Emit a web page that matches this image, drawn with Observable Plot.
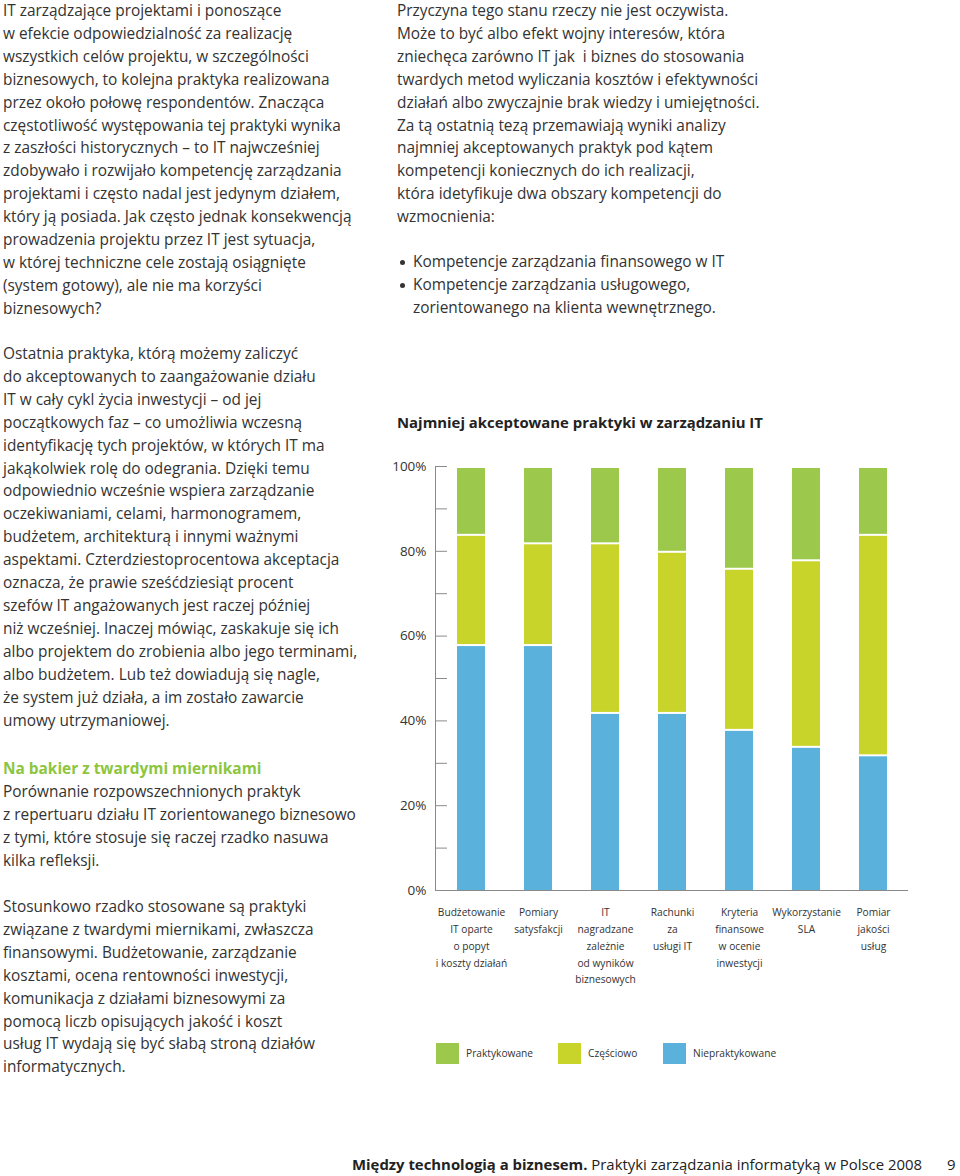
<!DOCTYPE html>
<html lang="pl">
<head>
<meta charset="utf-8">
<script src="https://cdn.jsdelivr.net/npm/d3@7"></script>
<script src="https://cdn.jsdelivr.net/npm/@observablehq/plot@0.6"></script>
<style>
  html, body { margin: 0; padding: 0; background: #fff; }
  body { width: 960px; height: 1176px; position: relative; overflow: hidden;
         font-family: "Open Sans", "Noto Sans", sans-serif; color: #333; }
  .p { position: absolute; font-size: 15.4px; line-height: 22.9px; white-space: nowrap; }
  .h { color: #8cc63f; font-weight: bold; }
  .title { position: absolute; left: 397px; top: 412px; font-size: 14.9px; font-weight: bold; color: #222; }
  #chart { position: absolute; left: 380px; top: 450px; }
  #legend { position: absolute; left: 436px; top: 1043px; font-size: 10.2px; }
  .sw { position: absolute; width: 23px; height: 21px; }
  .lt { position: absolute; top: 3px; white-space: nowrap; }
  .footer { position: absolute; left: 352px; top: 1154px; font-size: 14.9px; white-space: nowrap; color: #222; }
  .pg { position: absolute; left: 947px; top: 1154px; font-size: 14.9px; color: #222; }
  ul { margin: 0; padding: 0 0 0 16px; list-style: none; }
  li { position: relative; }
  li.dot::before { content: ""; position: absolute; left: -13px; top: 9px; width: 5px; height: 5px; border-radius: 50%; background: #333; }
</style>
</head>
<body>
<div class="p" style="left:3px; top:0px;">IT zarządzające projektami i ponoszące<br>w efekcie odpowiedzialność za realizację<br>wszystkich celów projektu, w szczególności<br>biznesowych, to kolejna praktyka realizowana<br>przez około połowę respondentów. Znacząca<br>częstotliwość występowania tej praktyki wynika<br>z zaszłości historycznych – to IT najwcześniej<br>zdobywało i rozwijało kompetencję zarządzania<br>projektami i często nadal jest jedynym działem,<br>który ją posiada. Jak często jednak konsekwencją<br>prowadzenia projektu przez IT jest sytuacja,<br>w której techniczne cele zostają osiągnięte<br>(system gotowy), ale nie ma korzyści<br>biznesowych?</div>

<div class="p" style="left:3px; top:343px;">Ostatnia praktyka, którą możemy zaliczyć<br>do akceptowanych to zaangażowanie działu<br>IT w cały cykl życia inwestycji – od jej<br>początkowych faz – co umożliwia wczesną<br>identyfikację tych projektów, w których IT ma<br>jakąkolwiek rolę do odegrania. Dzięki temu<br>odpowiednio wcześnie wspiera zarządzanie<br>oczekiwaniami, celami, harmonogramem,<br>budżetem, architekturą i innymi ważnymi<br>aspektami. Czterdziestoprocentowa akceptacja<br>oznacza, że prawie sześćdziesiąt procent<br>szefów IT angażowanych jest raczej później<br>niż wcześniej. Inaczej mówiąc, zaskakuje się ich<br>albo projektem do zrobienia albo jego terminami,<br>albo budżetem. Lub też dowiadują się nagle,<br>że system już działa, a im zostało zawarcie<br>umowy utrzymaniowej.</div>

<div class="p" style="left:3px; top:758px;"><span class="h">Na bakier z twardymi miernikami</span><br>Porównanie rozpowszechnionych praktyk<br>z repertuaru działu IT zorientowanego biznesowo<br>z tymi, które stosuje się raczej rzadko nasuwa<br>kilka refleksji.</div>

<div class="p" style="left:3px; top:896px;">Stosunkowo rzadko stosowane są praktyki<br>związane z twardymi miernikami, zwłaszcza<br>finansowymi. Budżetowanie, zarządzanie<br>kosztami, ocena rentowności inwestycji,<br>komunikacja z działami biznesowymi za<br>pomocą liczb opisujących jakość i koszt<br>usług IT wydają się być słabą stroną działów<br>informatycznych.</div>

<div class="p" style="left:397px; top:0px;">Przyczyna tego stanu rzeczy nie jest oczywista.<br>Może to być albo efekt wojny interesów, która<br>zniechęca zarówno IT jak&nbsp; i biznes do stosowania<br>twardych metod wyliczania kosztów i efektywności<br>działań albo zwyczajnie brak wiedzy i umiejętności.<br>Za tą ostatnią tezą przemawiają wyniki analizy<br>najmniej akceptowanych praktyk pod kątem<br>kompetencji koniecznych do ich realizacji,<br>która idetyfikuje dwa obszary kompetencji do<br>wzmocnienia:</div>

<div class="p" style="left:397px; top:251px;">
  <ul>
    <li class="dot">Kompetencje zarządzania finansowego w IT</li>
    <li class="dot">Kompetencje zarządzania usługowego,</li>
    <li>zorientowanego na klienta wewnętrznego.</li>
  </ul>
</div>

<div class="title">Najmniej akceptowane praktyki w zarządzaniu IT</div>
<div id="chart"></div>
<div id="legend"></div>

<div class="footer"><b>Między technologią a biznesem.</b> Praktyki zarządzania informatyką w Polsce 2008</div>
<div class="pg">9</div>

<script>
// ---- Data ----
const categories = [
  "Budżetowanie\nIT oparte\no popyt\ni koszty działań",
  "Pomiary\nsatysfakcji",
  "IT\nnagradzane\nzależnie\nod wyników\nbiznesowych",
  "Rachunki\nza\nusługi IT",
  "Kryteria\nfinansowe\nw ocenie\ninwestycji",
  "Wykorzystanie\nSLA",
  "Pomiar\njakości\nusług"
];
const series = ["Praktykowane", "Częściowo", "Niepraktykowane"];
const colors = ["#9cc84b", "#c9d42b", "#5ab2dc"];
const praktykowane    = [16, 18, 18, 20, 24, 22, 16];
const czesciowo       = [26, 24, 40, 38, 38, 44, 52];
const niepraktykowane = [58, 58, 42, 42, 38, 34, 32];
const yTicks = [0, 20, 40, 60, 80, 100];
const yMinorTicks = [0, 10, 20, 30, 40, 50, 60, 70, 80, 90, 100];

// table for the library (bottom-to-top stacking order)
const values = {"Praktykowane": praktykowane, "Częściowo": czesciowo, "Niepraktykowane": niepraktykowane};
const stackOrder = ["Niepraktykowane", "Częściowo", "Praktykowane"];
const rows = [];
for (const s of stackOrder) categories.forEach((c, i) => rows.push({category: c, series: s, value: values[s][i]}));

const W = 580, H = 540, ML = 55, MR = 52, MT = 16, MB = 100;
const chart = Plot.plot({
  width: W, height: H,
  marginLeft: ML, marginRight: MR, marginTop: MT, marginBottom: MB,
  style: {fontFamily: '"Open Sans", "Noto Sans", sans-serif', color: "#333", background: "transparent"},
  x: {domain: categories, paddingInner: 0.587, paddingOuter: 0.28, label: null},
  y: {domain: [0, 100], label: null},
  color: {domain: series, range: colors},
  marks: [
    Plot.barY(rows, Plot.stackY({x: "category", y: "value", fill: "series", order: stackOrder, insetTop: 2})),
    Plot.ruleY(yMinorTicks, {stroke: "#8a8a8a", insetRight: (W - ML - MR) - 12}),
    Plot.ruleY([0], {stroke: "#8a8a8a"}),
    Plot.frame({anchor: "left", stroke: "#8a8a8a"}),
    Plot.axisY({ticks: yTicks, tickSize: 0, tickPadding: 9, tickFormat: d => d + "%", fontSize: 13.5, fill: "#333", label: null}),
    Plot.axisX({tickSize: 0, tickPadding: 14, fontSize: 10.2, lineHeight: 1.64, fill: "#333", label: null})
  ]
});
document.getElementById("chart").appendChild(chart);

// legend
const leg = document.getElementById("legend");
const legX = [0, 122, 227];
series.forEach((s, i) => {
  const sw = document.createElement("div");
  sw.className = "sw"; sw.style.left = legX[i] + "px"; sw.style.top = "0px"; sw.style.background = colors[i];
  const t = document.createElement("div");
  t.className = "lt"; t.style.left = (legX[i] + 30) + "px"; t.textContent = s;
  leg.appendChild(sw); leg.appendChild(t);
});
</script>
</body>
</html>
